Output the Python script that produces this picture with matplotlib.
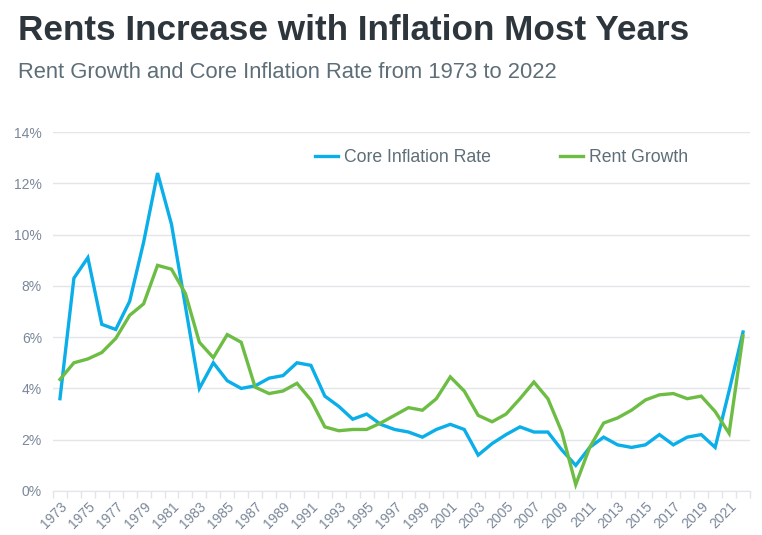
import numpy as np
import matplotlib.pyplot as plt

# ── data ──────────────────────────────────────────────────────────────────────
years = list(range(1973, 2023))

core_inflation = [
    3.6, 8.3, 9.1, 6.5, 6.3, 7.4, 9.7, 12.4, 10.4, 7.2,
    4.0, 5.0, 4.3, 4.0, 4.1, 4.4, 4.5, 5.0, 4.9, 3.7,
    3.3, 2.8, 3.0, 2.6, 2.4, 2.3, 2.1, 2.4, 2.6, 2.4,
    1.4, 1.85, 2.2, 2.5, 2.3, 2.3, 1.6, 1.0, 1.7, 2.1,
    1.8, 1.7, 1.8, 2.2, 1.8, 2.1, 2.2, 1.7, 3.9, 6.2,
]

rent_growth = [
    4.35, 5.0, 5.15, 5.4, 5.95, 6.85, 7.3, 8.8, 8.65, 7.7,
    5.8, 5.2, 6.1, 5.8, 4.05, 3.8, 3.9, 4.2, 3.55, 2.5,
    2.35, 2.4, 2.4, 2.65, 2.95, 3.25, 3.15, 3.6, 4.45, 3.9,
    2.95, 2.7, 3.0, 3.6, 4.25, 3.6, 2.3, 0.25, 1.7, 2.65,
    2.85, 3.15, 3.55, 3.75, 3.8, 3.6, 3.7, 3.1, 2.25, 6.05,
]

y_ticks = [0, 2, 4, 6, 8, 10, 12, 14]

# ── styles ────────────────────────────────────────────────────────────────────
BLUE = "#0aaee8"
GREEN = "#6dbd45"
TITLE_COLOR = "#2e363d"
SUB_COLOR = "#5d6e78"
TICK_COLOR = "#7a8799"
GRID_COLOR = "#e2e5e9"

plt.rcParams["font.family"] = ["Liberation Sans", "DejaVu Sans"]

fig = plt.figure(figsize=(7.62, 5.35), dpi=100)
ax = fig.add_axes([53 / 762, 1 - 491 / 535, 697 / 762, 359 / 535])

x = np.arange(len(years))
ax.plot(x, core_inflation, color=BLUE, lw=2.4, label="Core Inflation Rate",
        solid_joinstyle="miter")
ax.plot(x, rent_growth, color=GREEN, lw=2.4, label="Rent Growth",
        solid_joinstyle="miter")

ax.set_xlim(-0.5, len(years) - 0.5)
ax.set_ylim(0, 14)
ax.set_yticks(y_ticks)
ax.set_yticklabels([f"{v}%" for v in y_ticks], color=TICK_COLOR, fontsize=10)
ax.tick_params(axis="y", length=0, pad=8)
ax.grid(axis="y", color=GRID_COLOR, lw=1)
ax.set_axisbelow(True)

# category boundary ticks, labels on every other year
ax.set_xticks(np.arange(-0.5, len(years), 1.0))
ax.set_xticklabels([])
ax.set_xticks(x[::2], minor=True)
ax.set_xticklabels([str(y) for y in years[::2]], minor=True, rotation=45,
                   ha="right", rotation_mode="anchor", color=TICK_COLOR,
                   fontsize=10)
ax.tick_params(axis="x", which="major", length=5, color=GRID_COLOR, width=1)
ax.tick_params(axis="x", which="minor", length=0, pad=6)

for s in ["top", "right", "left"]:
    ax.spines[s].set_visible(False)
ax.spines["bottom"].set_color(GRID_COLOR)

leg = ax.legend(loc="center left", bbox_to_anchor=(0.376, 0.928), ncol=2,
                frameon=False, fontsize=12.7, handlelength=1.3,
                columnspacing=3.9, handletextpad=0.35,
                borderpad=0, borderaxespad=0)
for t in leg.get_texts():
    t.set_color(SUB_COLOR)

fig.text(18 / 762, 1 - 30 / 535, "Rents Increase with Inflation Most Years",
         fontsize=25.3, fontweight="bold", color=TITLE_COLOR, va="center")
fig.text(18 / 762, 1 - 73 / 535, "Rent Growth and Core Inflation Rate from 1973 to 2022",
         fontsize=15.8, color=SUB_COLOR, va="center")

fig.savefig("out.png", dpi=100)
